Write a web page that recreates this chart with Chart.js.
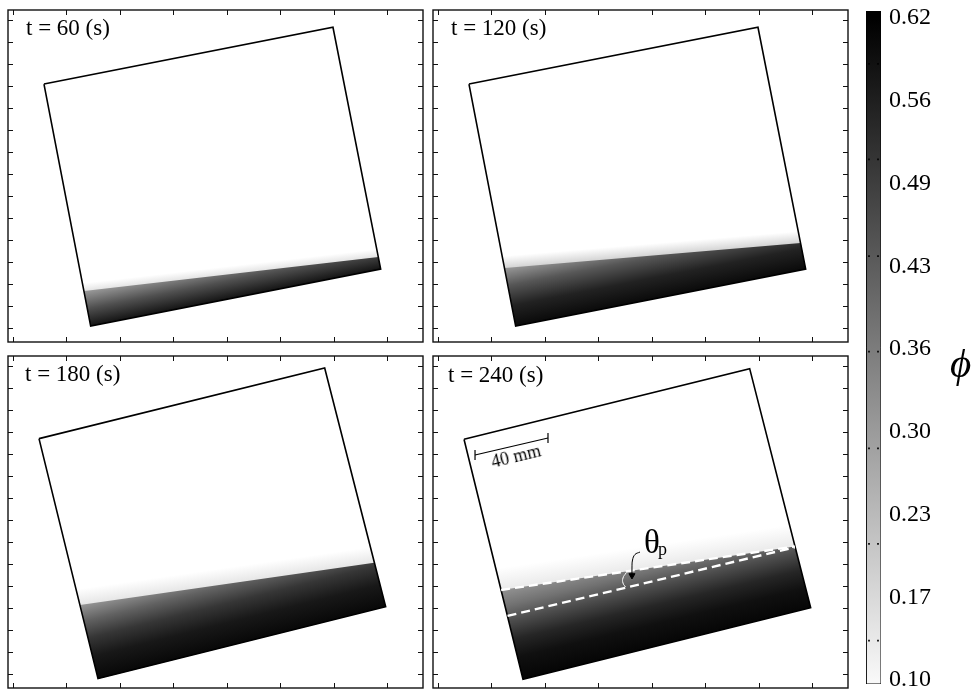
<!DOCTYPE html>
<html lang="en">
<head>
<meta charset="UTF-8">
<title>Settling in a tilted tank</title>
<style>
  body { margin: 0; background: #fff; width: 979px; height: 690px; position: relative; overflow: hidden;
         font-family: 'Liberation Serif', 'DejaVu Serif', serif; color: #000; }
  .panel { position: absolute; width: 419px; height: 336px; }
  .cbar  { position: absolute; left: 864px; top: 0; width: 113px; height: 690px; }
  .txt   { position: absolute; white-space: nowrap; line-height: 1; }
</style>
</head>
<body>
<div class="panel" style="left:6px;top:8px"><canvas id="p60"></canvas></div>
<div class="panel" style="left:431px;top:8px"><canvas id="p120"></canvas></div>
<div class="panel" style="left:6px;top:354px"><canvas id="p180"></canvas></div>
<div class="panel" style="left:431px;top:354px"><canvas id="p240"></canvas></div>
<div class="cbar"><canvas id="cb"></canvas></div>

<span class="txt" id="t60"  style="left:26px;top:15.7px;font-size:23px"></span>
<span class="txt" id="t120" style="left:451px;top:15.7px;font-size:23px"></span>
<span class="txt" id="t180" style="left:25px;top:361.7px;font-size:23px"></span>
<span class="txt" id="t240" style="left:448px;top:362.7px;font-size:23px"></span>
<span class="txt" style="left:516px;top:456px;font-size:18px;transform:translate(-50%,-50%) rotate(-13.6deg)">40 mm</span>
<span class="txt" style="left:644px;top:526px;font-size:33px">θ</span>
<span class="txt" style="left:658px;top:540px;font-size:18px">p</span>
<span class="txt" style="left:950px;top:343px;font-size:41px;font-style:italic">ϕ</span>

<script src="https://cdn.jsdelivr.net/npm/chart.js"></script>
<script>
  // axis ticks of each panel (tick units)
  const xTicks = [0, 1, 2, 3, 4, 5, 6, 7];
  const yTicks = [0, 1, 2, 3, 4, 5, 6, 7, 8, 9, 10, 11, 12, 13, 14];
  const xRange = [-0.0935, 7.664];
  const yRange = [-0.636, 14.455];

  const times = ['t = 60 (s)', 't = 120 (s)', 't = 180 (s)', 't = 240 (s)'];

  // tank corners: top-left, top-right, bottom-right, bottom-left
  const tank60  = [[0.579, 11.09], [5.981, 13.67], [6.873, 2.68], [1.452, 0.09]];
  const tank120 = [[0.579, 11.09], [5.981, 13.67], [6.873, 2.68], [1.452, 0.09]];
  const tank180 = [[0.486, 10.70], [5.826, 13.91], [6.966, 3.06], [1.589, -0.21]];
  const tank240 = [[0.486, 10.67], [5.826, 13.88], [6.966, 3.01], [1.589, -0.24]];

  // sediment front: where it meets the left and right walls
  const front60  = [[1.33, 1.68], [6.83, 3.23]];
  const front120 = [[1.25, 2.73], [6.78, 3.86]];
  const front180 = [[1.25, 3.14], [6.75, 5.06]];
  const front240 = [[1.18, 3.82], [6.67, 5.80]];
  const incline240 = [[1.30, 2.64], [6.67, 5.76]];

  const scaleBar = [[0.692, 9.955], [2.056, 10.727]];
  const arrowPts = [[3.776, 5.545], [3.682, 5.432], [3.636, 5.182], [3.626, 4.818], [3.626, 4.48]];
  const anglePts = [[3.514, 4.591], [3.458, 4.364], [3.458, 4.136], [3.505, 3.955]];

  // colour bar
  const phiTicks  = [0.10, 0.165, 0.23, 0.295, 0.36, 0.425, 0.49, 0.555, 0.62];
  const phiLabels = ['0.10', '0.17', '0.23', '0.30', '0.36', '0.43', '0.49', '0.56', '0.62'];
  const phiMarks  = [0.584, 0.509, 0.433, 0.358, 0.282, 0.207, 0.131];
  const phiRange  = [0.0969, 0.6255];

  const panels = [
    { id: 'p60',  tank: tank60,  front: front60,  glow: 8, glowColor: '#e4e4e4',
      stops: [[0, '#141414'], [0.5, '#505050'], [1, '#9a9a9a']] },
    { id: 'p120', tank: tank120, front: front120, glow: 12, glowColor: '#d4d4d4',
      stops: [[0, '#0a0a0a'], [0.35, '#222222'], [0.7, '#575757'], [1, '#989898']] },
    { id: 'p180', tank: tank180, front: front180, glow: 16, glowColor: '#e6e6e6',
      stops: [[0, '#080808'], [0.3, '#181818'], [0.55, '#363636'], [0.78, '#626262'], [1, '#969696']] },
    { id: 'p240', tank: tank240, front: front240, iso: incline240, glow: 22, glowColor: '#eaeaea',
      stops: [[0, '#050505'], [0.25, '#101010'], [0.45, '#262626'], [0.65, '#4d4d4d'], [0.82, '#727272'], [1, '#929292']] }
  ];

  const xy = pts => pts.map(([x, y]) => ({ x, y }));
  const closed = pts => xy([...pts, pts[0]]);
  const px = (ch, p) => [ch.scales.x.getPixelForValue(p[0]), ch.scales.y.getPixelForValue(p[1])];
  const upNormal = (a, b) => {
    const dx = b[0] - a[0], dy = b[1] - a[1], l = Math.hypot(dx, dy);
    return [dy / l, -dx / l];
  };

  function glowFill(cfg) {
    return c => {
      const ch = c.chart;
      if (!ch.chartArea) return null;
      const a = px(ch, cfg.front[0]), b = px(ch, cfg.front[1]);
      const n = upNormal(a, b);
      const g = ch.ctx.createLinearGradient(a[0], a[1], a[0] + n[0] * cfg.glow, a[1] + n[1] * cfg.glow);
      g.addColorStop(0, cfg.glowColor);
      g.addColorStop(1, '#ffffff');
      return g;
    };
  }

  function sedimentFill(cfg) {
    return c => {
      const ch = c.chart;
      if (!ch.chartArea) return null;
      const iso = cfg.iso || [cfg.tank[3], cfg.tank[2]];
      const n = upNormal(px(ch, iso[0]), px(ch, iso[1]));
      const s = px(ch, cfg.tank[3]), f = px(ch, cfg.front[0]);
      const h = (f[0] - s[0]) * n[0] + (f[1] - s[1]) * n[1];
      const g = ch.ctx.createLinearGradient(s[0], s[1], s[0] + n[0] * h, s[1] + n[1] * h);
      cfg.stops.forEach(([t, col]) => g.addColorStop(t, col));
      return g;
    };
  }

  const frameTicks = {
    id: 'frameTicks',
    afterDatasetsDraw(chart) {
      const { ctx, chartArea: a, scales: { x, y } } = chart;
      ctx.save();
      ctx.strokeStyle = '#111';
      ctx.lineWidth = 1;
      ctx.beginPath();
      xTicks.forEach(v => {
        const p = Math.round(x.getPixelForValue(v)) + 0.5;
        ctx.moveTo(p, a.top); ctx.lineTo(p, a.top + 5);
        ctx.moveTo(p, a.bottom); ctx.lineTo(p, a.bottom - 5);
      });
      yTicks.forEach(v => {
        const p = Math.round(y.getPixelForValue(v)) + 0.5;
        ctx.moveTo(a.left, p); ctx.lineTo(a.left + 5, p);
        ctx.moveTo(a.right, p); ctx.lineTo(a.right - 5, p);
      });
      ctx.stroke();
      ctx.lineWidth = 1.4;
      ctx.strokeRect(a.left, a.top, a.width, a.height);
      ctx.restore();
    }
  };

  panels.forEach((cfg, i) => {
    document.getElementById('t' + cfg.id.slice(1)).textContent = times[i];
    const sediment = [cfg.front[0], cfg.front[1], cfg.tank[2], cfg.tank[3]];
    const datasets = [
      { data: closed(cfg.tank), fill: 'shape', backgroundColor: glowFill(cfg), borderWidth: 0, order: 9 },
      { data: closed(sediment), fill: 'shape', backgroundColor: sedimentFill(cfg), borderWidth: 0, order: 8 },
      { data: closed(cfg.tank), fill: false, borderColor: '#000', borderWidth: 1.6, order: 7 }
    ];
    if (cfg.iso) {
      datasets.push(
        { data: xy(cfg.front), borderColor: '#fff', borderWidth: 2.4, borderDash: [9, 5], order: 5 },
        { data: xy(cfg.iso), borderColor: '#fff', borderWidth: 2.4, borderDash: [9, 5], order: 5 },
        { data: xy(anglePts), borderColor: '#fff', borderWidth: 1, tension: 0.5, order: 4 },
        { data: xy(arrowPts), borderColor: '#000', borderWidth: 1, tension: 0.4, order: 3,
          pointStyle: 'triangle', pointRotation: 180, pointBackgroundColor: '#000', pointBorderColor: '#000',
          pointRadius: c => c.dataIndex === arrowPts.length - 1 ? 3.5 : 0 },
        { data: xy(scaleBar), borderColor: '#000', borderWidth: 1.2, order: 2,
          pointStyle: 'line', pointRotation: 90, pointRadius: 5, pointBorderColor: '#000', pointBorderWidth: 1.2 }
      );
    }
    datasets.forEach(d => {
      d.showLine = true;
      if (d.pointRadius === undefined) d.pointRadius = 0;
      d.pointHoverRadius = 0;
    });
    new Chart(document.getElementById(cfg.id), {
      type: 'scatter',
      data: { datasets },
      options: {
        responsive: true, maintainAspectRatio: false, animation: false, events: [],
        layout: { padding: 2, autoPadding: false },
        plugins: { legend: { display: false }, tooltip: { enabled: false } },
        scales: {
          x: { type: 'linear', display: false, min: xRange[0], max: xRange[1] },
          y: { type: 'linear', display: false, min: yRange[0], max: yRange[1] }
        }
      },
      plugins: [frameTicks]
    });
  });

  // colour bar for the volume fraction
  const barPoly = [[0, phiRange[0]], [1, phiRange[0]], [1, phiRange[1]], [0, phiRange[1]]];
  const markPts = phiMarks.flatMap(v => [{ x: 0.2, y: v }, { x: 0.8, y: v }]);
  new Chart(document.getElementById('cb'), {
    type: 'scatter',
    data: {
      datasets: [
        { data: markPts, pointStyle: 'rect', pointRadius: 1.2, pointBackgroundColor: '#000',
          pointBorderWidth: 0, order: 1 },
        { data: closed(barPoly), showLine: true, fill: 'shape', borderColor: '#000', borderWidth: 1,
          pointRadius: 0, order: 2,
          backgroundColor: c => {
            const ch = c.chart;
            if (!ch.chartArea) return null;
            const y = ch.scales.y;
            const g = ch.ctx.createLinearGradient(0, y.getPixelForValue(phiTicks[0]), 0, y.getPixelForValue(phiTicks[phiTicks.length - 1]));
            g.addColorStop(0, '#f8f8f8');
            g.addColorStop(1, '#000000');
            return g;
          } }
      ]
    },
    options: {
      responsive: true, maintainAspectRatio: false, animation: false, events: [],
      layout: { padding: { left: 2, top: 11, bottom: 6, right: 0 }, autoPadding: false },
      plugins: { legend: { display: false }, tooltip: { enabled: false } },
      scales: {
        x: { type: 'linear', display: false, min: 0, max: 1 },
        y: {
          type: 'linear', position: 'right', min: phiRange[0], max: phiRange[1],
          afterBuildTicks: s => { s.ticks = phiTicks.map(value => ({ value })); },
          afterFit: s => { s.width = 96; s.paddingTop = 0; s.paddingBottom = 0; },
          grid: { display: false, drawTicks: false },
          border: { display: false },
          ticks: {
            padding: 8, autoSkip: false, color: '#000',
            font: { family: 'Liberation Serif', size: 24 },
            callback: (v, i) => phiLabels[i]
          }
        }
      }
    }
  });
</script>
</body>
</html>
